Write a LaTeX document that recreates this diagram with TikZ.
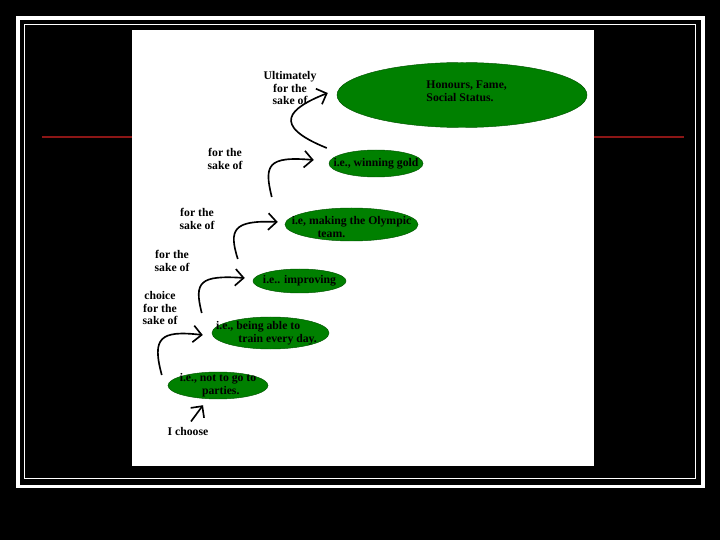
\documentclass[tikz,border=0pt]{standalone}
\usepackage{fontspec}
\setmainfont{Liberation Serif}
\usetikzlibrary{shapes.geometric,arrows.meta,calc}
\definecolor{leaf}{RGB}{0,128,0}
\definecolor{leafedge}{RGB}{0,85,0}
\definecolor{rulered}{RGB}{140,22,22}
\tikzset{
  goal/.style={ellipse, fill=leaf, draw=leafedge, inner sep=0pt},
  goaltext/.style={font=\bfseries\fontsize{10}{11}\selectfont, align=left, inner sep=0pt},
  why/.style={font=\bfseries\fontsize{10}{10.5}\selectfont, align=center, inner sep=1pt},
  hand/.style={line width=1.4pt, -{Straight Barb[length=2.5mm,width=5mm]}},
}
\begin{document}
\begin{tikzpicture}[x=0.03cm,y=-0.03cm]
\fill[black] (0,0) rectangle (720,540);
\draw[white, line width=3.4pt] (18,18) rectangle (703,486.5);
\draw[white, line width=0.85pt] (24.5,24.5) rectangle (695.5,478);
\draw[rulered, line width=1.7pt] (42,137) -- (132,137);
\draw[rulered, line width=1.7pt] (594,137) -- (684,137);
\fill[white] (132,30) rectangle (594,466);

\node[goal, minimum width=7.5cm, minimum height=1.95cm] (honours) at (462,95)
  [label={[goaltext, xshift=4pt, yshift=3pt]center:Honours, Fame,\\Social Status.}] {};
\node[goal, minimum width=2.82cm, minimum height=0.81cm] (gold) at (376,163.5)
  [label={[goaltext]center:i.e., winning gold}] {};
\node[goal, minimum width=3.99cm, minimum height=0.99cm] (olympic) at (351.5,224.5)
  [label={[goaltext, yshift=-2.5pt]center:i.e, making the Olympic\\\hspace*{22pt}team.}] {};
\node[goal, minimum width=2.79cm, minimum height=0.72cm] (improving) at (299.5,281)
  [label={[goaltext]center:i.e.. improving}] {};
\node[goal, minimum width=3.51cm, minimum height=0.96cm] (train) at (270.5,333)
  [label={[goaltext, xshift=-3.4pt]center:i.e., being able to\\\hspace*{19pt}train every day.}] {};
\node[goal, minimum width=3cm, minimum height=0.81cm] (parties) at (218,385.5)
  [label={[goaltext]center:i.e., not to go to\\\hspace*{19pt}parties.}] {};

\node[why] (ult) at (290,88) {Ultimately\\for the\\sake of};
\node[why] (sake1) at (225,159) {for the\\sake of};
\node[why] (sake2) at (197,219) {for the\\sake of};
\node[why] (sake3) at (172,261) {for the\\sake of};
\node[why] (choice) at (160,308) {choice\\for the\\sake of};
\node[why] (choose) at (188,431) {I choose};

\draw[hand] ($(choose.north)+(3,-4)$) -- ($(parties.south)+(-15,6)$);
\draw[hand] ($(parties.west)+(-6,-10.5)$) .. controls +(-10,-37) and +(-43,-5) .. ($(train.west)+(-9,2)$);
\draw[hand] ($(train.west)+(-10,-20)$) .. controls +(-8,-31) and +(-45,-3) .. ($(improving.west)+(-8,-3)$);
\draw[hand] ($(improving.west)+(-15,-22)$) .. controls +(-9,-29) and +(-45,-2) .. ($(olympic.west)+(-7,-2.5)$);
\draw[hand] ($(olympic.west)+(-13,-27.5)$) .. controls +(-8,-32) and +(-46,-4) .. ($(gold.west)+(-15,-3.5)$);
\draw[hand] ($(gold.west)+(-2,-15.5)$) .. controls +(-57,-23) and +(-38,15) .. ($(honours.west)+(-9,-2)$);
\end{tikzpicture}
\end{document}
